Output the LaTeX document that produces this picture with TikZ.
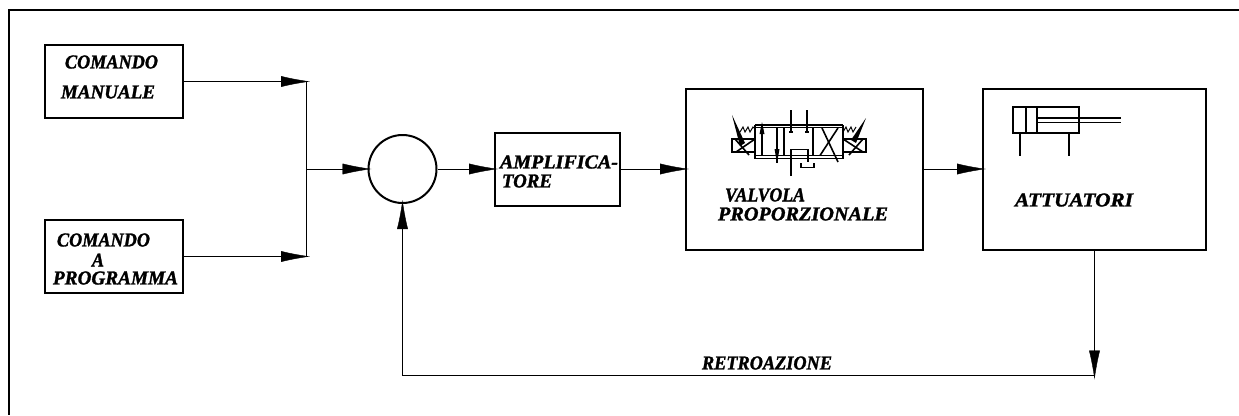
\documentclass[tikz,border=0pt]{standalone}
\usepackage{graphicx}
\usepackage{fontspec}
\setmainfont{Liberation Serif}
\newfontface\lblfont[FakeBold=1.5]{Liberation Serif Bold Italic}
\usetikzlibrary{arrows.meta}
\newcommand{\fitlbl}[2]{\resizebox{#1pt}{13pt}{\lblfont #2}}
\tikzset{
  x=1pt,y=-1pt,
  line width=1.9pt,
  box/.style={draw=black,line width=2pt,inner sep=0pt},
  lbl/.style={inner sep=0pt,anchor=center},
  arr/.style={-{Latex[length=29pt,width=11pt,sep=0pt]},shorten >=-4pt}
}
\begin{document}
\begin{tikzpicture}
\useasboundingbox (0,0) rectangle (1239,415);
\fill[white] (0,0) rectangle (1239,415);
\coordinate (fa) at (1239,10);
\coordinate (fb) at (9,10);
\coordinate (fc) at (9,415);
\draw[line width=2.2pt] (fa) -- (fb) -- (fc);
% boxes
\node[box,minimum width=138pt,minimum height=73pt] (man) at (114,81.5) {};
\node[box,minimum width=138pt,minimum height=73pt] (prog) at (114,256.5) {};
\node[box,circle,minimum size=68pt] (sum) at (402.5,169) {};
\node[box,minimum width=125pt,minimum height=73pt] (amp) at (557.5,169) {};
\node[box,minimum width=237pt,minimum height=161pt] (val) at (804.5,169) {};
\node[box,minimum width=223pt,minimum height=161pt] (att) at (1094.5,169) {};
% connectors
\coordinate (busT) at (306,81.5);
\coordinate (busB) at (306,256.5);
\coordinate (busM) at (306,169);
\coordinate (fbC) at (402.5,375.5);
\coordinate (fbE) at (1094.5,375.5);
\draw[arr] (man.east) -- (busT);
\draw[arr] (prog.east) -- (busB);
\draw (busT) -- (busB);
\draw[arr] (busM) -- (sum.west);
\draw[arr] (sum.east) -- (amp.west);
\draw[arr] (amp.east) -- (val.west);
\draw[arr] (val.east) -- (att.west);
\draw[arr] (att.south) -- (fbE);
\draw[arr] (fbE) -- (fbC) -- (sum.south);
% labels
\node[lbl] (t1) at (111.5,62) {\fitlbl{93}{COMANDO}};
\node[lbl] (t2) at (108,92) {\fitlbl{94}{MANUALE}};
\node[lbl] (t3) at (103.5,240) {\fitlbl{93}{COMANDO}};
\node[lbl] (t4) at (98,260) {\fitlbl{12}{A}};
\node[lbl] (t5) at (115.5,278) {\fitlbl{125}{PROGRAMMA}};
\node[lbl] (t6) at (559,162) {\fitlbl{118}{AMPLIFICA-}};
\node[lbl] (t7) at (527,181) {\fitlbl{50}{TORE}};
\node[lbl] (t8) at (765,195) {\fitlbl{80}{VALVOLA}};
\node[lbl] (t9) at (803,214) {\fitlbl{170}{PROPORZIONALE}};
\node[lbl] (t10) at (1074,200) {\fitlbl{118}{ATTUATORI}};
\node[lbl] (t11) at (767,363) {\fitlbl{130}{RETROAZIONE}};
% valve symbol
\begin{scope}[line width=1.6pt]
\draw (755,127.5) rectangle (843,155.5);
\draw[line width=1.9pt] (755,125) -- (843,125);
\draw[line width=1.9pt] (755,158.5) -- (843,158.5);
\draw (755,125) -- (755,158.5);
\draw (843,125) -- (843,158.5);
\draw (784,127.5) -- (784,155.5);
\draw (813,127.5) -- (813,155.5);
\draw (732,139) rectangle (755,152);
\draw (843,139) rectangle (866,152);
\draw (791,110) -- (791,132);
\draw (807,110) -- (807,132);
\draw (789,132) -- (793,132);
\draw (805,132) -- (809,132);
\draw (791,176) -- (791,149.5) -- (808,149.5) -- (808,162);
\draw (801,163) -- (801,167.5) -- (814,167.5) -- (814,163);
\draw (736,152) -- (755,139);
\draw (735,139) -- (749,155);
\draw (863,152) -- (843,139);
\draw (863,139) -- (849,155);
\draw (820,155.5) -- (838,128);
\draw (822,128) -- (838,162);
\draw (762,125) -- (762,156);
\fill (762,122) -- (764.5,134) -- (759.5,134) -- cycle;
\draw (777,128) -- (777,163);
\fill (777,163) -- (774.5,149) -- (779.5,149) -- cycle;
\fill (732,115) -- (745,143) -- (740,146) -- cycle;
\fill (866,118) -- (856,143) -- (851,140) -- cycle;
\draw[line width=1pt] (740,132) -- (743,127) -- (745,132) -- (748,127) -- (750,132) -- (753,127) -- (755,129);
\draw[line width=1pt] (843,132) -- (846,127) -- (848,132) -- (851,127) -- (853,132) -- (856,127);
\end{scope}
% cylinder symbol
\begin{scope}[line width=1.6pt]
\draw (1013,107) rectangle (1079,133);
\draw (1026,107) -- (1026,133);
\draw (1037,107) -- (1037,133);
\draw (1037,118) -- (1121,118);
\draw (1037,122.5) -- (1121,122.5);
\draw (1020,133) -- (1020,156);
\draw (1069,133) -- (1069,156);
\end{scope}
\end{tikzpicture}
\end{document}
